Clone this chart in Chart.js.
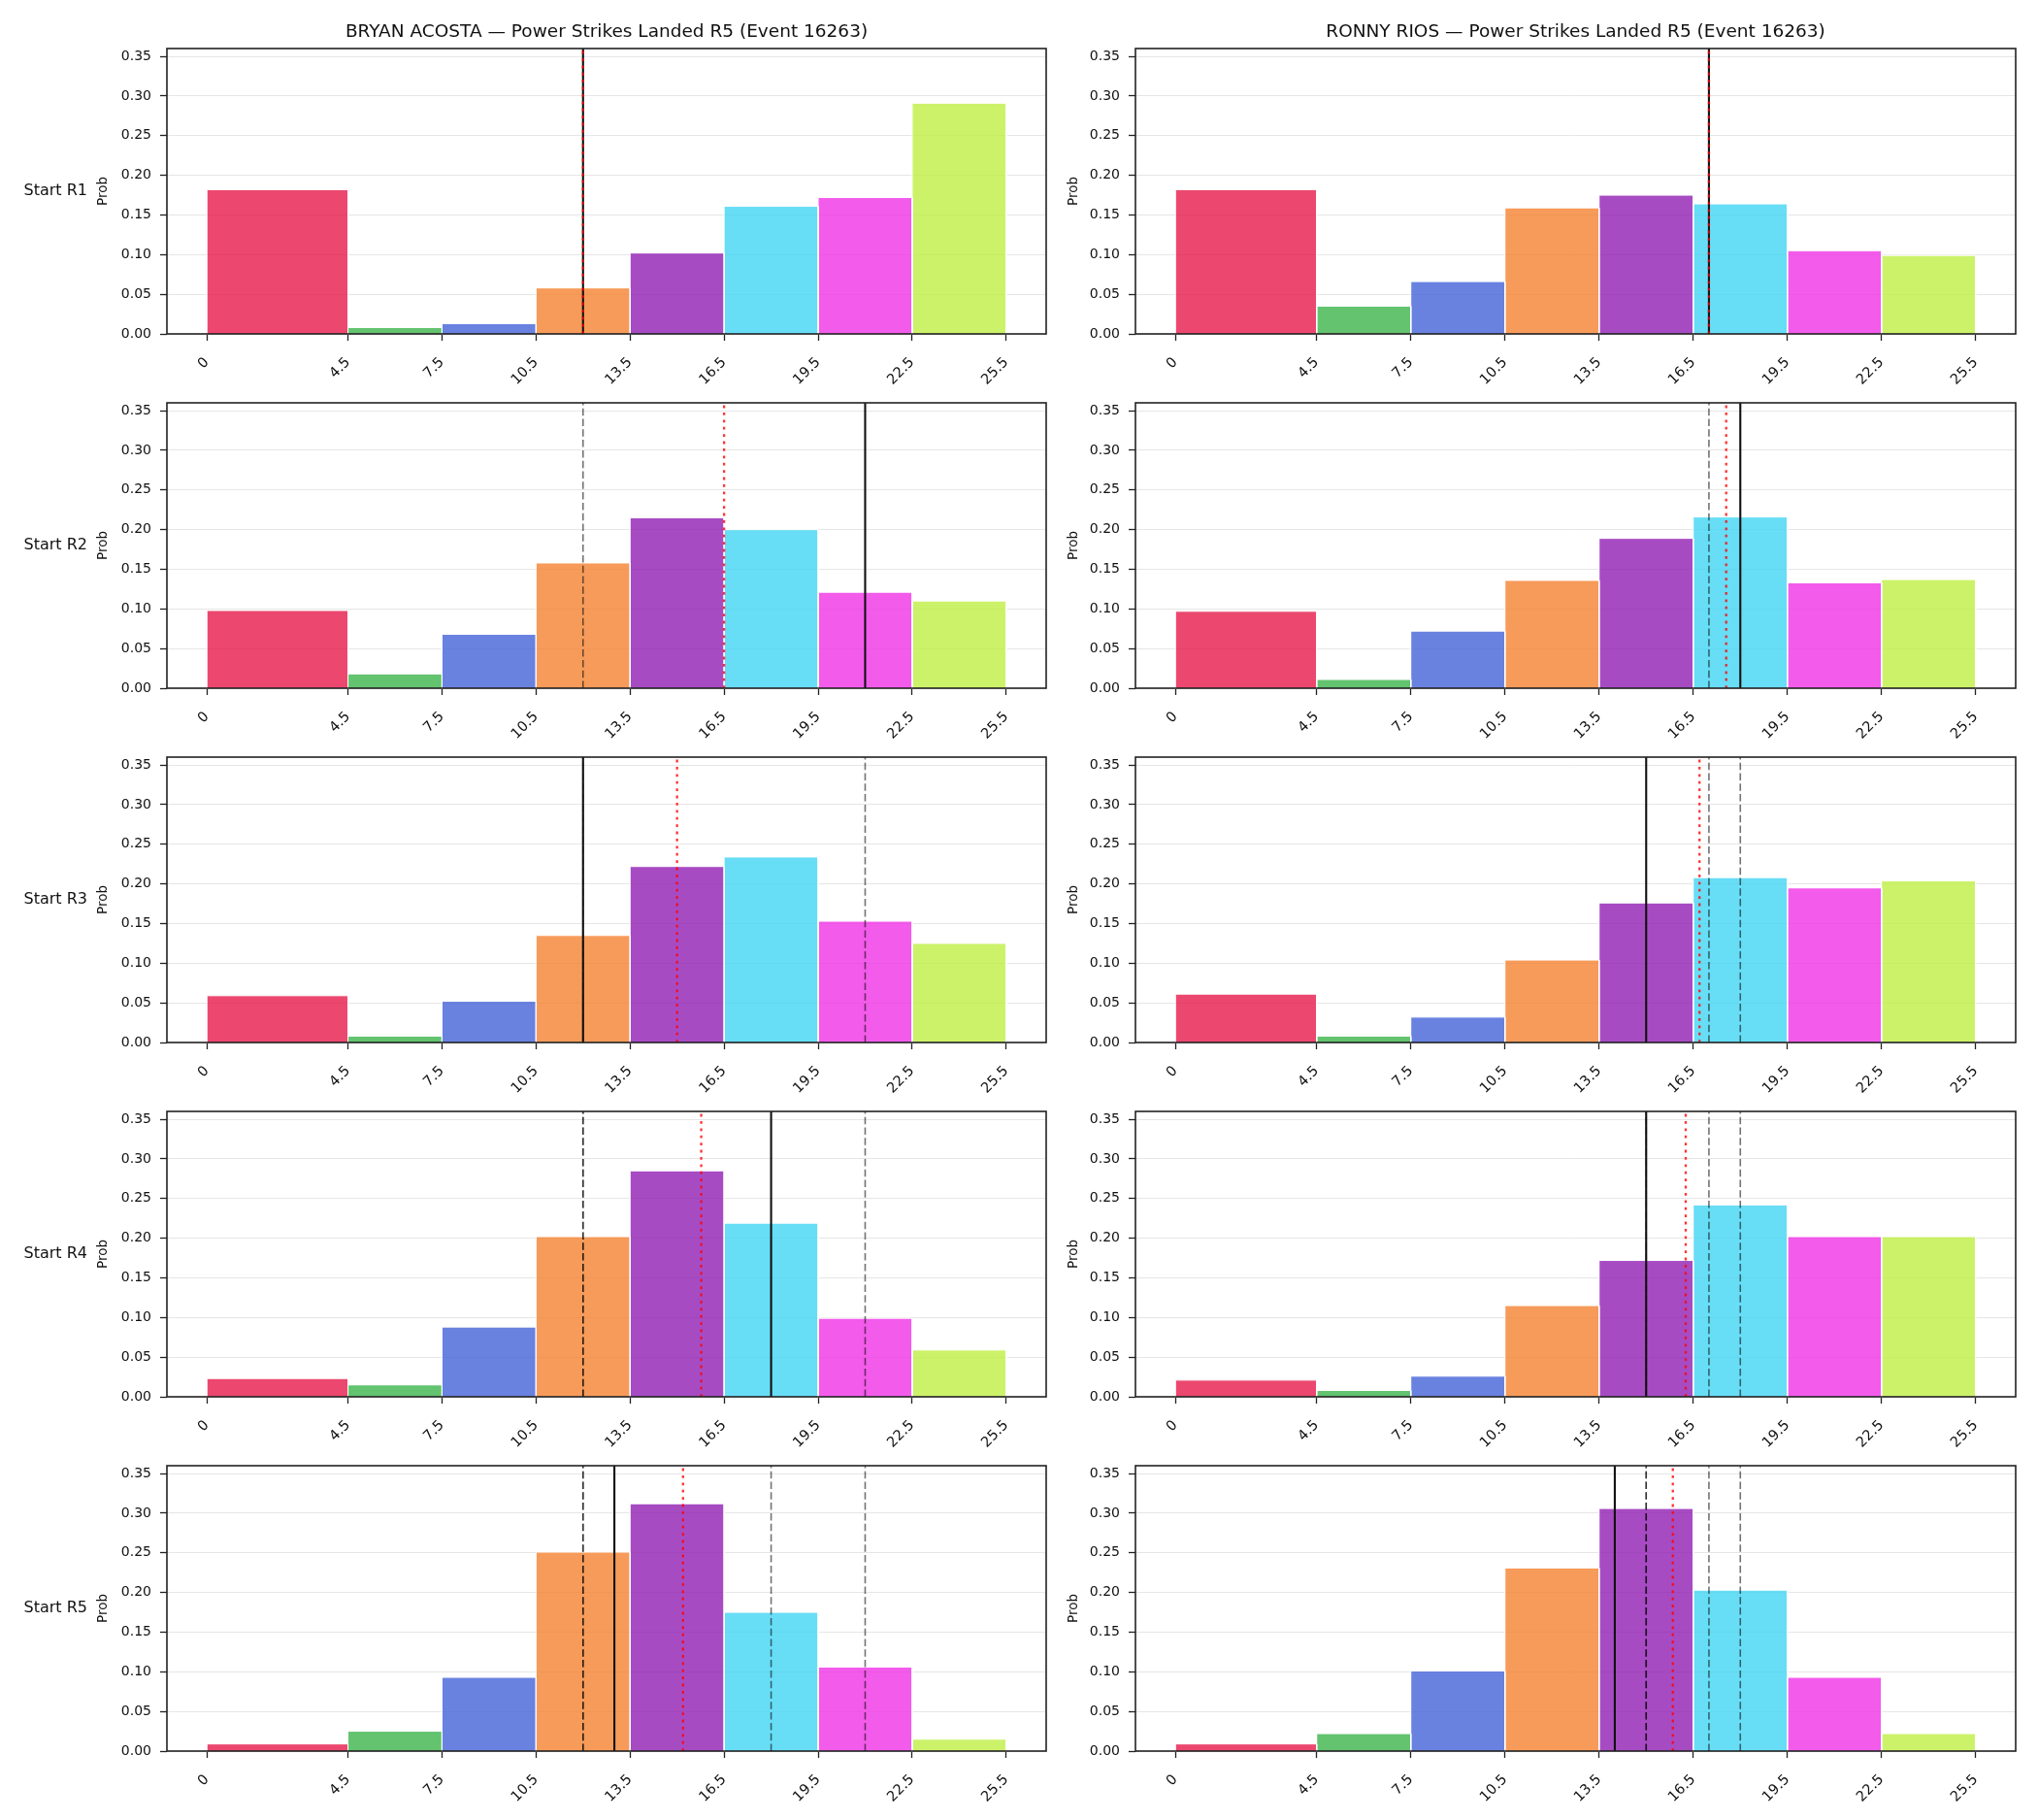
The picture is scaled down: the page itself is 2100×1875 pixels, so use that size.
<!DOCTYPE html>
<html>
<head>
<meta charset="utf-8">
<script src="https://cdn.jsdelivr.net/npm/chart.js@4.4.1/dist/chart.umd.min.js"></script>
<style>
  html, body { margin: 0; padding: 0; background: #fff; }
  body { width: 2100px; height: 1875px; position: relative; overflow: hidden; }
  canvas.panel { position: absolute; }
</style>
</head>
<body>
<script>
// bin edges / tick values
const binEdges = [0, 4.5, 7.5, 10.5, 13.5, 16.5, 19.5, 22.5, 25.5];
const yTickValues = [0, 0.05, 0.10, 0.15, 0.20, 0.25, 0.30, 0.35];
const rowLabels = ['Start R1', 'Start R2', 'Start R3', 'Start R4', 'Start R5'];

// probabilities per bin, one array per start round
const acostaR1 = [0.182, 0.008, 0.013, 0.058, 0.102, 0.161, 0.172, 0.291];
const acostaR2 = [0.098, 0.018, 0.068, 0.158, 0.215, 0.200, 0.121, 0.110];
const acostaR3 = [0.059, 0.008, 0.052, 0.135, 0.222, 0.234, 0.153, 0.125];
const acostaR4 = [0.023, 0.015, 0.088, 0.202, 0.285, 0.219, 0.099, 0.059];
const acostaR5 = [0.009, 0.025, 0.093, 0.251, 0.312, 0.175, 0.106, 0.015];

const riosR1 = [0.182, 0.035, 0.066, 0.159, 0.175, 0.164, 0.105, 0.099];
const riosR2 = [0.097, 0.011, 0.072, 0.136, 0.189, 0.216, 0.133, 0.137];
const riosR3 = [0.061, 0.008, 0.032, 0.104, 0.176, 0.208, 0.195, 0.204];
const riosR4 = [0.021, 0.008, 0.026, 0.115, 0.172, 0.242, 0.202, 0.202];
const riosR5 = [0.009, 0.022, 0.101, 0.231, 0.306, 0.203, 0.093, 0.022];

// count at start of each round (solid line; earlier ones repeat dashed)
const acostaStarts = [12, 21, 12, 18, 13];
const riosStarts = [17, 18, 15, 15, 14];
// red dotted marker per round
const acostaMarks = [12, 16.5, 15, 15.77, 15.19];
const riosMarks = [17, 17.55, 16.7, 16.26, 15.85];

const binColors = [
  'rgba(230,25,75,0.8)', 'rgba(60,180,75,0.8)', 'rgba(67,99,216,0.8)', 'rgba(245,130,49,0.8)',
  'rgba(145,30,180,0.8)', 'rgba(66,212,244,0.8)', 'rgba(240,50,230,0.8)', 'rgba(191,239,69,0.8)'
];

const FONT = "'DejaVu Sans', sans-serif";
const ROW_TOP = [50, 415, 780, 1145, 1510];
const AREA_H = 294;
const PAD_TOP = 50;
const X_AXIS_H = 62;
const Y_MAX = 0.36;

const columns = [
  { title: 'BRYAN ACOSTA — Power Strikes Landed R5 (Event 16263)',
    probs: [acostaR1, acostaR2, acostaR3, acostaR4, acostaR5],
    starts: acostaStarts, marks: acostaMarks,
    left: 0, width: 1090, padLeft: 94, yAxisW: 78, padRight: 12, rowLabel: true },
  { title: 'RONNY RIOS — Power Strikes Landed R5 (Event 16263)',
    probs: [riosR1, riosR2, riosR3, riosR4, riosR5],
    starts: riosStarts, marks: riosMarks,
    left: 1090, width: 1010, padLeft: 4, yAxisW: 76, padRight: 23, rowLabel: false },
];

// frame (all four spines) + title + row label
const panelDecor = {
  id: 'panelDecor',
  afterDatasetsDraw(chart, args, opts) {
    const { ctx, chartArea: { left, top, right, bottom } } = chart;
    ctx.save();
    ctx.strokeStyle = '#222';
    ctx.lineWidth = 1.6;
    ctx.strokeRect(left, top, right - left, bottom - top);
    ctx.fillStyle = '#111';
    if (opts.title) {
      ctx.font = '18.5px ' + FONT;
      ctx.textAlign = 'center';
      ctx.textBaseline = 'alphabetic';
      ctx.fillText(opts.title, (left + right) / 2, top - 12);
    }
    if (opts.rowLabel) {
      ctx.font = '16px ' + FONT;
      ctx.textAlign = 'right';
      ctx.textBaseline = 'middle';
      ctx.fillText(opts.rowLabel, left - 82, (top + bottom) / 2);
    }
    ctx.restore();
  }
};

function vline(x, color, width, dash, order) {
  return {
    type: 'line',
    data: [{ x: x, y: 0 }, { x: x, y: Y_MAX }],
    borderColor: color, borderWidth: width, borderDash: dash,
    pointRadius: 0, fill: false, order: order
  };
}

function makePanel(col, r) {
  const canvas = document.createElement('canvas');
  canvas.className = 'panel';
  const h = PAD_TOP + AREA_H + X_AXIS_H;
  canvas.width = col.width;
  canvas.height = h;
  canvas.style.left = col.left + 'px';
  canvas.style.top = (ROW_TOP[r] - PAD_TOP) + 'px';
  canvas.style.width = col.width + 'px';
  canvas.style.height = h + 'px';
  document.body.appendChild(canvas);

  const probs = col.probs[r];
  const datasets = [];
  probs.forEach((p, i) => {
    const x0 = binEdges[i], x1 = binEdges[i + 1];
    datasets.push({
      type: 'line',
      data: [{ x: x0, y: 0 }, { x: x0, y: p }, { x: x1, y: p }, { x: x1, y: 0 }],
      backgroundColor: binColors[i], borderColor: '#ffffff', borderWidth: 1,
      fill: 'origin', pointRadius: 0, tension: 0, order: 10
    });
  });
  // earlier starts, dashed
  for (let k = 0; k < r; k++) {
    datasets.push(vline(col.starts[k], 'rgba(0,0,0,0.55)', 1.6, [7.5, 3.3], 3));
  }
  datasets.push(vline(col.starts[r], '#111', 2.1, [], 2));
  datasets.push(vline(col.marks[r], 'rgba(255,0,0,0.8)', 2.3, [2.8, 4.6], 1));

  new Chart(canvas, {
    type: 'line',
    data: { datasets },
    options: {
      responsive: false,
      animation: false,
      devicePixelRatio: 1,
      layout: { padding: { top: PAD_TOP, left: col.padLeft, right: col.padRight, bottom: 0 } },
      plugins: {
        legend: { display: false },
        tooltip: { enabled: false },
        panelDecor: { title: r === 0 ? col.title : null, rowLabel: col.rowLabel ? rowLabels[r] : null }
      },
      scales: {
        x: {
          type: 'linear', min: -1.275, max: 26.775,
          afterBuildTicks: ax => { ax.ticks = binEdges.map(v => ({ value: v })); },
          afterFit: ax => { ax.height = X_AXIS_H; },
          ticks: {
            autoSkip: false, minRotation: 45, maxRotation: 45, padding: 14,
            callback: v => String(v),
            font: { family: FONT, size: 14.5 }, color: '#111'
          },
          grid: { drawOnChartArea: false, drawTicks: true, tickLength: 7, tickColor: '#222', tickWidth: 1.3 },
          border: { display: false }
        },
        y: {
          type: 'linear', min: 0, max: Y_MAX,
          afterBuildTicks: ax => { ax.ticks = yTickValues.map(v => ({ value: v })); },
          afterFit: ax => { ax.width = col.yAxisW; },
          ticks: {
            padding: 9,
            callback: v => v.toFixed(2),
            font: { family: FONT, size: 14 }, color: '#111'
          },
          grid: { color: '#e6e6e6', lineWidth: 1, tickColor: '#222', tickLength: 7, tickWidth: 1.3 },
          border: { display: false },
          title: { display: true, text: 'Prob', font: { family: FONT, size: 13.5 }, color: '#111', padding: { top: 4, bottom: 4 } }
        }
      }
    },
    plugins: [panelDecor]
  });
}

columns.forEach(col => {
  for (let r = 0; r < 5; r++) makePanel(col, r);
});
</script>
</body>
</html>
